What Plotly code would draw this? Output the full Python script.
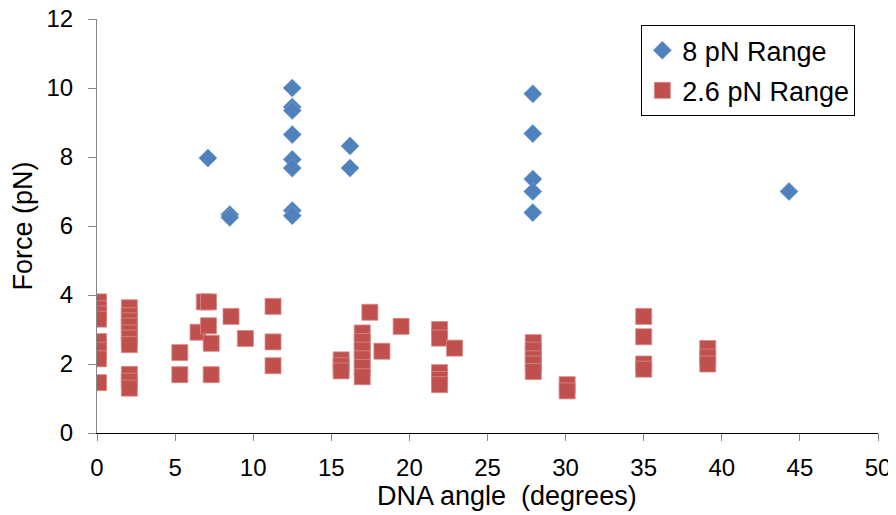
import plotly.graph_objects as go

# 8 pN Range (blue diamonds)
angle_8pn = [7.1, 8.5, 8.5,
             12.5, 12.5, 12.5, 12.5, 12.5, 12.5, 12.5, 12.5,
             16.2, 16.2,
             27.9, 27.9, 27.9, 27.9, 27.9,
             44.3]
force_8pn = [7.97, 6.33, 6.25,
             10.0, 9.45, 9.35, 8.65, 7.93, 7.68, 6.45, 6.3,
             8.32, 7.68,
             9.83, 8.68, 7.36, 7.0, 6.39,
             7.0]

# 2.6 pN Range (red squares)
angle_26pn = [0.1, 0.1, 0.1, 0.1, 0.1, 0.1, 0.1, 0.1,
              2.07, 2.07, 2.07, 2.07, 2.07, 2.07, 2.07, 2.07, 2.07, 2.07,
              5.3, 5.3,
              6.47,
              6.87, 7.14,
              7.14,
              7.31, 7.31,
              8.58,
              9.5,
              11.27, 11.27, 11.27,
              15.63, 15.63, 15.63,
              16.98, 16.98, 16.98, 16.98, 16.98, 16.98,
              17.47,
              18.24,
              19.47,
              21.93, 21.93, 21.93, 21.93, 21.93,
              22.89,
              27.93, 27.93, 27.93, 27.93, 27.93,
              30.1, 30.1,
              35.0, 35.0, 35.0, 35.0,
              39.1, 39.1, 39.1]
force_26pn = [3.8, 3.6, 3.45, 3.3, 2.65, 2.4, 2.15, 1.46,
              3.63, 3.4, 3.25, 3.1, 2.9, 2.75, 2.56, 1.7, 1.5, 1.3,
              2.33, 1.69,
              2.92,
              3.8, 3.8,
              3.11,
              2.6, 1.69,
              3.38,
              2.74,
              3.67, 2.64, 1.95,
              2.12, 1.95, 1.8,
              2.9, 2.65, 2.4, 2.15, 1.9, 1.63,
              3.5,
              2.37,
              3.09,
              3.0, 2.75, 1.75, 1.55, 1.4,
              2.46,
              2.62, 2.4, 2.15, 2.0, 1.78,
              1.4, 1.22,
              3.38, 2.79, 2.0, 1.85,
              2.45, 2.2, 2.0]

x_ticks = [0, 5, 10, 15, 20, 25, 30, 35, 40, 45, 50]
y_ticks = [0, 2, 4, 6, 8, 10, 12]
x_title = "DNA angle  (degrees)"
y_title = "Force (pN)"

BLUE = "#4F81BD"
RED = "#C0504D"
FONT = "Liberation Sans, Arial, sans-serif"

fig = go.Figure()
fig.add_trace(go.Scatter(
    x=angle_8pn, y=force_8pn, mode="markers", name="8 pN Range",
    legendgroup="a",
    marker=dict(symbol="diamond", size=14, color=BLUE,
                line=dict(width=0.6, color="#7FA3D0")),
))
fig.add_trace(go.Scatter(
    x=angle_26pn, y=force_26pn, mode="markers", name="2.6 pN Range",
    legendgroup="b",
    marker=dict(symbol="square", size=16, color=RED,
                line=dict(width=0.8, color="#D88A88")),
))

# page body has an 8px margin, so the figure is drawn 8px in from the corner
fig.update_layout(
    width=888, height=507,
    margin=dict(l=89, r=18, t=11, b=82, autoexpand=False),
    paper_bgcolor="white", plot_bgcolor="white",
    font=dict(family=FONT, size=24, color="black"),
    showlegend=True,
    legend=dict(
        x=0.697, y=0.985, xanchor="left", yanchor="top",
        bgcolor="white", bordercolor="black", borderwidth=1,
        font=dict(family=FONT, size=27, color="black"),
        tracegroupgap=2,
    ),
    xaxis=dict(
        range=[0, 50], tickvals=x_ticks, ticktext=[str(v) for v in x_ticks],
        showgrid=False, zeroline=False, automargin=False,
        showline=True, linecolor="black", linewidth=1,
        ticks="outside", ticklen=7, tickcolor="#868686", tickwidth=1,
        ticklabelstandoff=6, ticklabeloverflow="allow",
        tickfont=dict(family=FONT, size=24, color="black"),
    ),
    yaxis=dict(
        range=[0, 12], tickvals=y_ticks, ticktext=[str(v) for v in y_ticks],
        showgrid=False, zeroline=False, automargin=False,
        showline=True, linecolor="#868686", linewidth=1,
        ticks="outside", ticklen=8, tickcolor="#868686", tickwidth=1,
        ticklabelstandoff=10, ticklabeloverflow="allow",
        tickfont=dict(family=FONT, size=24, color="black"),
        title=dict(text=y_title,
                   font=dict(family=FONT, size=27, color="black"),
                   standoff=8),
    ),
    annotations=[dict(
        text=x_title, xref="paper", yref="paper",
        x=0.525, y=-0.152, xanchor="center", yanchor="middle",
        showarrow=False, font=dict(family=FONT, size=27, color="black"),
    )],
)

fig.write_html("out.html")
